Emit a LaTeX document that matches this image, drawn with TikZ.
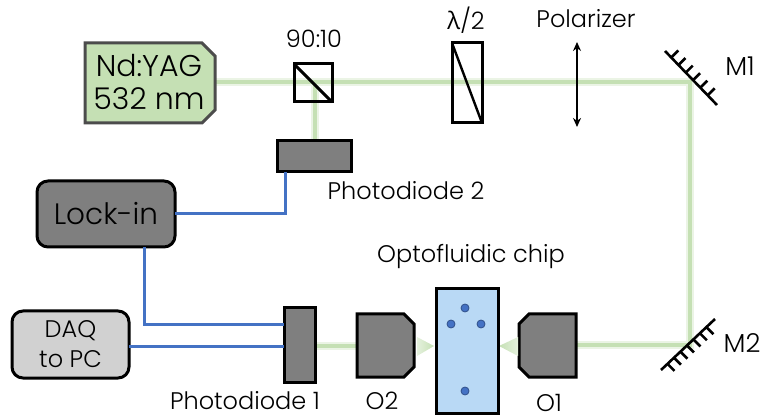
\documentclass[tikz,border=0pt]{standalone}
\usepackage{fontspec}
\setmainfont{Poppins Light}
\newfontfamily\greekfont{Open Sans}
\usetikzlibrary{calc,arrows.meta}
\definecolor{beamgreen}{HTML}{C5E0B4}
\definecolor{wireblue}{HTML}{4472C4}
\definecolor{darkgray}{HTML}{7F7F7F}
\definecolor{chipblue}{HTML}{B9D9F5}
\tikzset{
  box/.style={draw=black, line width=3pt, outer sep=0pt, inner sep=0pt},
  darkbox/.style={box, fill=darkgray},
  label/.style={inner sep=0pt, font=\fontsize{24}{28}\selectfont},
  halo/.style={line width=8pt, beamgreen!35},
  beam/.style={line width=3.5pt, beamgreen},
  wire/.style={line width=3pt, wireblue},
  mirror/.style={line width=2.6pt, black},
  bead/.style={circle, fill=wireblue, draw=wireblue!70!black, line width=0.8pt, minimum size=8pt, inner sep=0pt},
  cone/.style={draw=none}
}
\begin{document}
\begin{tikzpicture}[>=stealth, x=1pt, y=-1pt]
    \useasboundingbox (0,0) rectangle (760,419);

    % Beam corners
    \coordinate (laserout) at (215,82);
    \coordinate (cornerone) at (690,82);
    \coordinate (cornertwo) at (690,345);
    \coordinate (splitter) at (315,82);

    % Beam
    \draw [halo] (laserout) -- (cornerone) -- (cornertwo) -- (576,345);
    \draw [halo] (splitter) -- (315,141);
    \draw [halo] (315,346) -- (358,346);
    \draw [beam] (laserout) -- (cornerone) -- (cornertwo) -- (576,345);
    \draw [beam] (splitter) -- (315,141);
    \draw [beam] (315,346) -- (358,346);

    % Laser
    \draw [draw=black!70, fill=beamgreen, line width=3pt] (85,43) -- (202,43) -- (215,56) -- (215,110) -- (202,123) -- (85,123) -- cycle;
    \node (laser) [align=center, inner sep=0pt, font=\fontsize{30}{33}\selectfont] at (149,82) {Nd:YAG\\532 nm};

    % Splitter, waveplate, polarizer
    \node (cube) [box, minimum width=38pt, minimum height=38pt] at (313,83) {};
    \draw [line width=3pt] (cube.north west) -- (cube.south east);
    \node (plate) [box, minimum width=30pt, minimum height=80pt] at (467,83) {};
    \draw [line width=2.4pt] (plate.north west) -- (plate.south east);
    \coordinate (poltop) at (577,42);
    \coordinate (polbottom) at (577,127);
    \draw [{Stealth[length=9pt,width=8pt]}-{Stealth[length=9pt,width=8pt]}, line width=2.2pt] (poltop) -- (polbottom);

    % Mirrors
    \coordinate (mone) at (665,51);
    \coordinate (moneend) at (717,105);
    \draw [mirror] (mone) -- (moneend);
    \foreach \t in {0.12,0.26,...,0.95}
        \draw [mirror] ($(mone)!\t!(moneend)$) -- ++(7,-7);
    \coordinate (mtwo) at (661,370);
    \coordinate (mtwoend) at (715,319);
    \draw [mirror] (mtwo) -- (mtwoend);
    \foreach \t in {0.12,0.24,...,0.95}
        \draw [mirror] ($(mtwo)!\t!(mtwoend)$) -- ++(7,7);

    % Detectors and electronics
    \node (pdtwo) [darkbox, minimum width=74pt, minimum height=31pt] at (314,156.5) {};
    \node (pdone) [darkbox, minimum width=31pt, minimum height=74pt] at (299.5,345) {};
    \node (lockin) [darkbox, rounded corners=11pt, minimum width=138pt, minimum height=66pt, font=\fontsize{29.5}{33}\selectfont] at (106,214) {Lock-in};
    \node (daq) [box, fill=black!18, rounded corners=11pt, minimum width=117pt, minimum height=67pt, align=center, font=\fontsize{24}{30}\selectfont] at (70.5,344.5) {DAQ\\to PC};

    % Wires
    \coordinate (pdtwoin) at (285,172);
    \coordinate (lockout) at (144,247);
    \coordinate (lockbend) at (144,325);
    \coordinate (daqout) at (129,347);
    \draw [wire] (lockin.east) -| (pdtwoin);
    \draw [wire] (lockout) -- (lockbend) -- (lockbend -| pdone.west);
    \draw [wire] (daqout) -- (daqout -| pdone.west);

    % Objectives
    \draw [draw=black, fill=darkgray, line width=3pt] (357,314) -- (404,314) -- (414,324) -- (414,367) -- (404,377) -- (357,377) -- cycle;
    \draw [draw=black, fill=darkgray, line width=3pt] (576,314) -- (529,314) -- (519,324) -- (519,367) -- (529,377) -- (576,377) -- cycle;

    % Focused beam
    \shade [cone, left color=beamgreen!45, right color=beamgreen] (417,337) -- (434,346) -- (417,356) -- cycle;
    \shade [cone, right color=beamgreen!45, left color=beamgreen] (518,337) -- (499,346) -- (518,356) -- cycle;

    % Chip
    \node (chip) [box, fill=chipblue, minimum width=62pt, minimum height=124pt] at (467,351) {};
    \node (beada) [bead] at (465,308) {};
    \node (beadb) [bead] at (451,324) {};
    \node (beadc) [bead] at (481,324) {};
    \node (beadd) [bead] at (465,391) {};

    % Labels
    \node (splitlabel) [label] at (314,39) {90:10};
    \node (platelabel) [label] at (466,20) {{\greekfont λ}/2};
    \node (pollabel) [label] at (586,19) {Polarizer};
    \node (monelabel) [label, font=\fontsize{26}{28}\selectfont] at (740,66) {M1};
    \node (mtwolabel) [label, font=\fontsize{26}{28}\selectfont] at (742,343) {M2};
    \node (pdtwolabel) [label] at (406,191) {Photodiode 2};
    \node (chiplabel) [label] at (471,257) {Optofluidic chip};
    \node (pdonelabel) [label] at (245,401) {Photodiode 1};
    \node (otwolabel) [label] at (382,401) {O2};
    \node (oonelabel) [label] at (549,403) {O1};
\end{tikzpicture}
\end{document}
